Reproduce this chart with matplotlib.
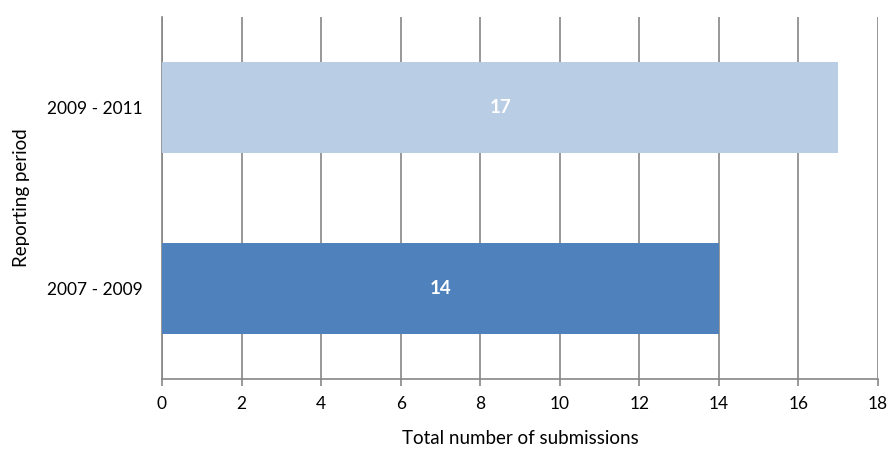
import matplotlib
matplotlib.use("Agg")
import matplotlib.pyplot as plt

periods = ["2007 - 2009", "2009 - 2011"]
submissions = [14, 17]
bar_colors = ["#4F81BD", "#B9CDE5"]
x_ticks = [0, 2, 4, 6, 8, 10, 12, 14, 16, 18]

plt.rcParams["font.family"] = ["Lato", "DejaVu Sans"]

fig = plt.figure(figsize=(8.93, 4.54), dpi=100)
ax = fig.add_axes([0.1814, 0.1652, 0.8018, 0.7974])

ypos = list(range(len(periods)))
bars = ax.barh(ypos, submissions, height=0.5, color=bar_colors, zorder=3)
for y, v in zip(ypos, submissions):
    ax.text(v / 2, y, str(v), ha="center", va="center", color="white",
            fontsize=13.5, fontweight="bold", zorder=4)

ax.set_xlim(0, 18)
ax.set_ylim(-0.5, 1.5)
ax.set_xticks(x_ticks)
ax.set_yticks(ypos)
ax.set_yticklabels(periods)
ax.grid(axis="x", color="#868686", linewidth=1.2, zorder=0)
ax.grid(axis="y", visible=False)

for s in ["top", "right"]:
    ax.spines[s].set_visible(False)
ax.spines["left"].set_color("#868686")
ax.spines["bottom"].set_color("#868686")
ax.spines["left"].set_linewidth(1.2)
ax.spines["bottom"].set_linewidth(1.2)
ax.tick_params(axis="x", colors="#868686", length=5, width=1.2, labelcolor="black",
               labelsize=12.5, pad=7)
ax.tick_params(axis="y", length=0, labelsize=12.5, pad=14, labelcolor="black")

ax.set_xlabel("Total number of submissions", fontsize=13.5, labelpad=13)
ax.set_ylabel("Reporting period", fontsize=13.5, labelpad=12)

fig.savefig("out.png", dpi=100)
